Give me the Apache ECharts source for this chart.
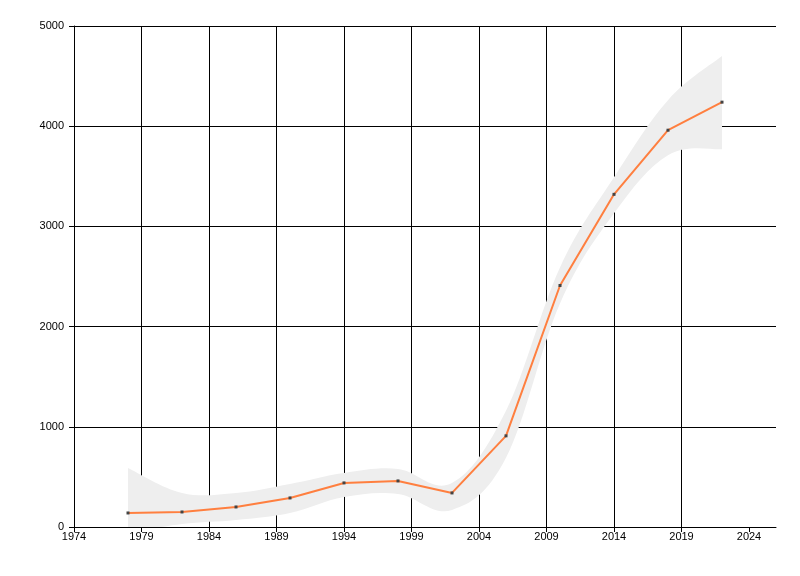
<!DOCTYPE html>
<html>
<head>
<meta charset="utf-8">
<script src="https://cdn.jsdelivr.net/npm/echarts@6/dist/echarts.min.js"></script>
<style>
  html, body { margin: 0; padding: 0; background: #fff; }
  #main { width: 800px; height: 576px; }
</style>
</head>
<body>
<div id="main"></div>
<script>
var myChart = echarts.init(document.getElementById('main'));

// Years and values
const years = [1978, 1982, 1986, 1990, 1994, 1998, 2002, 2006, 2010, 2014, 2018, 2022];
const values = [140, 150, 200, 290, 440, 460, 340, 910, 2410, 3320, 3960, 4240];
// Confidence band around the line
const bandLow = [-60, 30, 70, 140, 300, 330, 170, 690, 2230, 3130, 3710, 3770];
const bandHigh = [590, 340, 340, 430, 540, 580, 440, 1160, 2590, 3490, 4260, 4700];
const xTicks = [1974, 1979, 1984, 1989, 1994, 1999, 2004, 2009, 2014, 2019, 2024];

const labelFont = {
    fontFamily: 'Liberation Sans',
    fontSize: 11,
    color: '#000'
};

// catmull-rom through pixel points, returns bezier path commands
function splinePath(pts, first) {
    let d = (first ? 'M' : 'L') + pts[0][0] + ' ' + pts[0][1];
    const t = 0.18;
    for (let i = 0; i < pts.length - 1; i++) {
        const p0 = pts[Math.max(i - 1, 0)];
        const p1 = pts[i];
        const p2 = pts[i + 1];
        const p3 = pts[Math.min(i + 2, pts.length - 1)];
        const c1 = [p1[0] + (p2[0] - p0[0]) * t, p1[1] + (p2[1] - p0[1]) * t];
        const c2 = [p2[0] - (p3[0] - p1[0]) * t, p2[1] - (p3[1] - p1[1]) * t];
        d += ' C' + c1[0] + ' ' + c1[1] + ' ' + c2[0] + ' ' + c2[1] + ' ' + p2[0] + ' ' + p2[1];
    }
    return d;
}

function renderBand(params, api) {
    if (params.dataIndex !== 0) return null;
    const up = years.map((y, i) => api.coord([y, bandHigh[i]]));
    const low = years.map((y, i) => api.coord([y, bandLow[i]])).reverse();
    const d = splinePath(up, true) + ' ' + splinePath(low, false) + ' Z';
    return {
        type: 'path',
        shape: { pathData: d },
        style: { fill: '#eeeeee' },
        clipPath: {
            type: 'rect',
            shape: {
                x: params.coordSys.x,
                y: params.coordSys.y,
                width: params.coordSys.width,
                height: params.coordSys.height
            }
        }
    };
}

var option = {
    animation: false,
    grid: {
        left: 74,
        right: 24,
        top: 26,
        bottom: 49
    },
    xAxis: {
        type: 'value',
        min: 1974,
        max: 2026,
        interval: 5,
        axisLine: { lineStyle: { color: '#000', width: 1 } },
        axisTick: { show: true, length: 5, lineStyle: { color: '#000' }, customValues: xTicks },
        axisLabel: Object.assign({
            margin: 4,
            customValues: xTicks,
            formatter: v => String(v)
        }, labelFont),
        splitLine: { show: true, showMaxLine: false, lineStyle: { color: '#000', width: 1 } }
    },
    yAxis: {
        type: 'value',
        min: 0,
        max: 5000,
        interval: 1000,
        axisLine: { show: true, lineStyle: { color: '#000', width: 1 } },
        axisTick: { show: true, length: 5, lineStyle: { color: '#000' } },
        axisLabel: Object.assign({ margin: 10, formatter: v => String(v) }, labelFont),
        splitLine: { show: true, lineStyle: { color: '#000', width: 1 } }
    },
    series: [
        {
            name: 'band',
            type: 'custom',
            renderItem: renderBand,
            data: years.map((y, i) => [y, bandLow[i], bandHigh[i]]),
            encode: { x: 0, y: [1, 2] },
            silent: true,
            z: 2
        },
        {
            name: 'value',
            type: 'line',
            symbol: 'rect',
            symbolSize: 3,
            itemStyle: { color: '#444' },
            lineStyle: { color: '#ff7f3f', width: 2 },
            data: years.map((y, i) => [y, values[i]]),
            z: 5
        }
    ]
};

myChart.setOption(option);
</script>
</body>
</html>
